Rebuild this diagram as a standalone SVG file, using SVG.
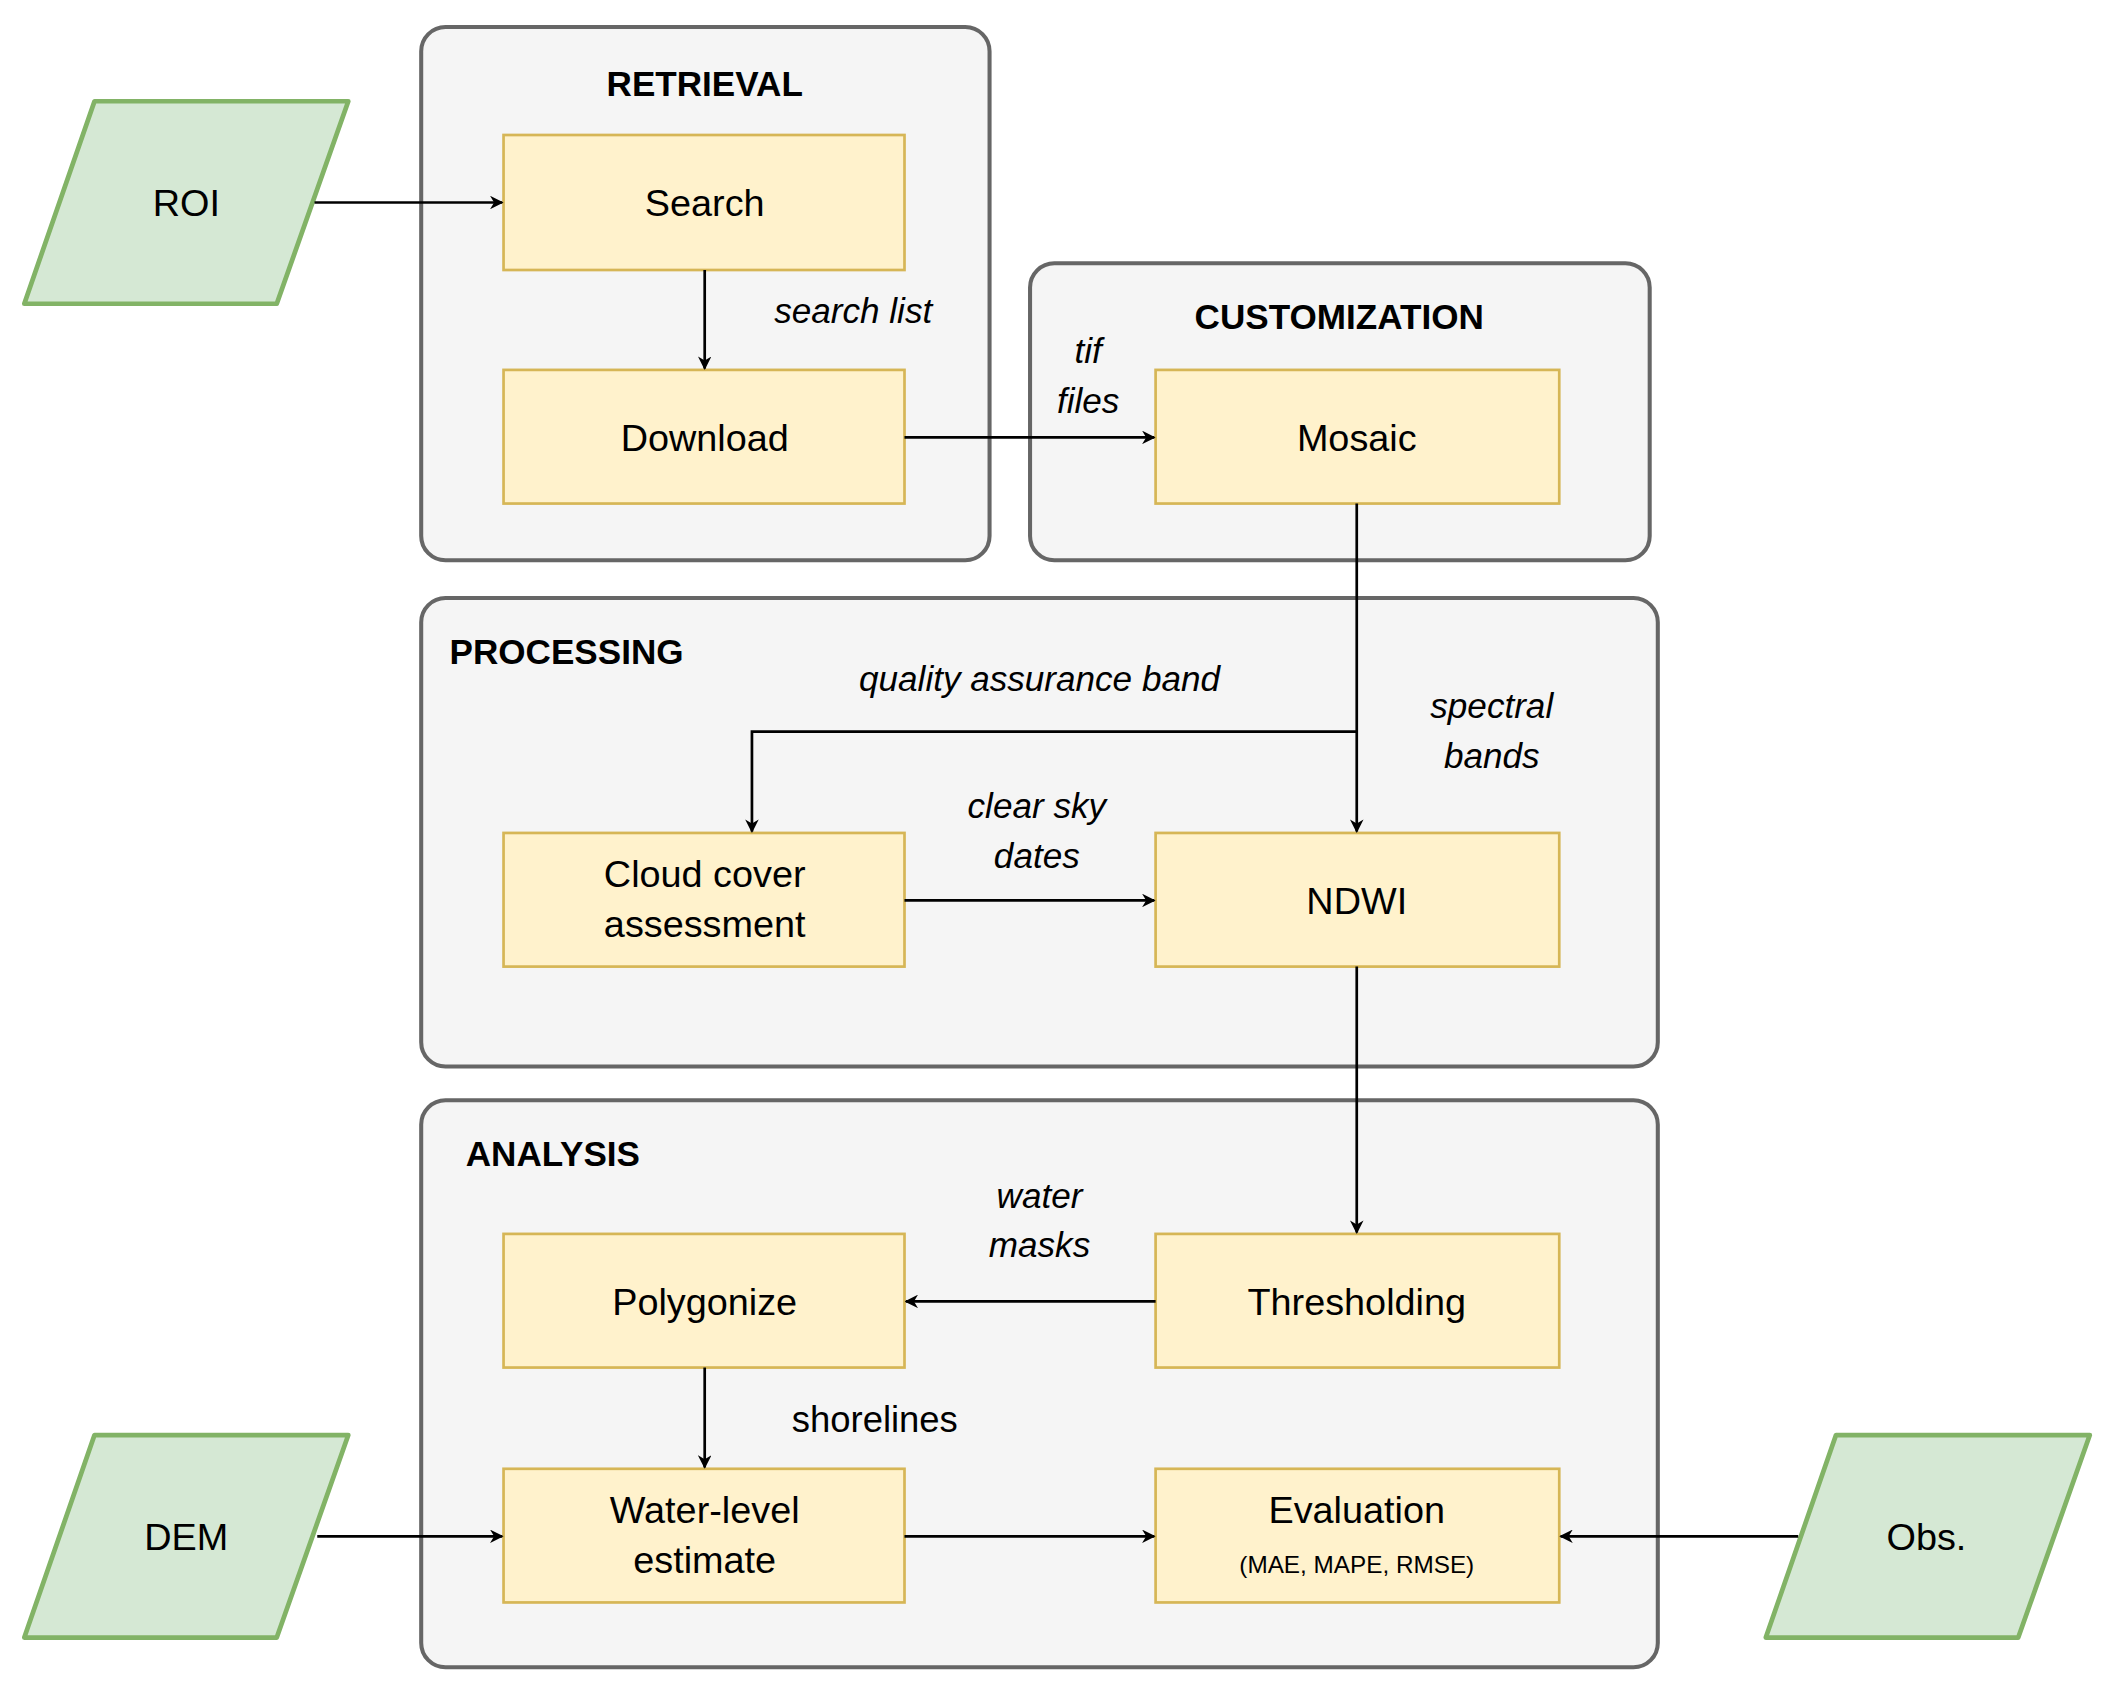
<svg xmlns="http://www.w3.org/2000/svg" width="2107" height="1688" viewBox="0 0 2107 1688">
<defs>
<style>
.grp{fill:#f5f5f5;stroke:#666;stroke-width:3}
.box{fill:#fff2cc;stroke:#d6b656;stroke-width:2}
.io{fill:#d5e8d4;stroke:#82b366;stroke-width:3.5;stroke-linejoin:round}
text{font-family:"Liberation Sans",Arial,sans-serif;fill:#000;text-anchor:middle}
.t{font-size:28px}
.h{font-size:26px;font-weight:bold}
.l{font-size:26px;font-style:italic}
.s{font-size:18px}
.e{fill:none;stroke:#000;stroke-width:2}
</style>
<marker id="a" viewBox="0 0 10 10" refX="9" refY="5" markerWidth="10" markerHeight="10" markerUnits="userSpaceOnUse" orient="auto"><path d="M0,0 L10,5 L0,10 L3,5 Z" fill="#000" transform="scale(1)"/></marker>
</defs>
<rect width="2107" height="1688" fill="#fff"/>
<g transform="scale(1.35)">
<g id="retrieval"><rect class="grp" x="312" y="20" width="421" height="395" rx="18"/><text class="h" x="522" y="71">RETRIEVAL</text></g>
<g id="customization"><rect class="grp" x="763" y="195" width="459" height="220" rx="18"/><text class="h" x="992" y="244">CUSTOMIZATION</text></g>
<g id="processing"><rect class="grp" x="312" y="443" width="916" height="347" rx="18"/><text class="h" x="333" y="492" style="text-anchor:start">PROCESSING</text></g>
<g id="analysis"><rect class="grp" x="312" y="815" width="916" height="420" rx="18"/><text class="h" x="345" y="864" style="text-anchor:start">ANALYSIS</text></g>
<g id="roi"><path class="io" d="M70,75 L258,75 L205,225 L18,225 Z"/><text class="t" x="138" y="160">ROI</text></g>
<g id="dem"><path class="io" d="M70,1063 L258,1063 L205,1213 L18,1213 Z"/><text class="t" x="138" y="1148">DEM</text></g>
<g id="obs"><path class="io" d="M1360,1063 L1548,1063 L1495,1213 L1308,1213 Z"/><text class="t" x="1427" y="1148">Obs.</text></g>
<g id="search"><rect class="box" x="373" y="100" width="297" height="100"/><text class="t" x="522" y="160">Search</text></g>
<g id="download"><rect class="box" x="373" y="274" width="297" height="99"/><text class="t" x="522" y="334">Download</text></g>
<g id="mosaic"><rect class="box" x="856" y="274" width="299" height="99"/><text class="t" x="1005" y="334">Mosaic</text></g>
<g id="cloud"><rect class="box" x="373" y="617" width="297" height="99"/><text class="t" x="522" y="657">Cloud cover</text><text class="t" x="522" y="694">assessment</text></g>
<g id="ndwi"><rect class="box" x="856" y="617" width="299" height="99"/><text class="t" x="1005" y="677">NDWI</text></g>
<g id="polygonize"><rect class="box" x="373" y="914" width="297" height="99"/><text class="t" x="522" y="974">Polygonize</text></g>
<g id="thresholding"><rect class="box" x="856" y="914" width="299" height="99"/><text class="t" x="1005" y="974">Thresholding</text></g>
<g id="waterlevel"><rect class="box" x="373" y="1088" width="297" height="99"/><text class="t" x="522" y="1128">Water-level</text><text class="t" x="522" y="1165">estimate</text></g>
<g id="evaluation"><rect class="box" x="856" y="1088" width="299" height="99"/><text class="t" x="1005" y="1128">Evaluation</text><text class="s" x="1005" y="1165">(MAE, MAPE, RMSE)</text></g>
<g id="connectors">
<path class="e" marker-end="url(#a)" d="M233,150 H372"/>
<path class="e" marker-end="url(#a)" d="M522,200 V273"/>
<path class="e" marker-end="url(#a)" d="M670,324 H855"/>
<path class="e" marker-end="url(#a)" d="M1005,373 V616"/>
<path class="e" marker-end="url(#a)" d="M1005,542 H557 V616"/>
<path class="e" marker-end="url(#a)" d="M670,667 H855"/>
<path class="e" marker-end="url(#a)" d="M1005,716 V913"/>
<path class="e" marker-end="url(#a)" d="M856,964 H671"/>
<path class="e" marker-end="url(#a)" d="M522,1013 V1087"/>
<path class="e" marker-end="url(#a)" d="M235,1138 H372"/>
<path class="e" marker-end="url(#a)" d="M670,1138 H855"/>
<path class="e" marker-end="url(#a)" d="M1332,1138 H1156"/>
<text class="l" x="632" y="239">search list</text>
<text class="l" x="806" y="269">tif</text><text class="l" x="806" y="306">files</text>
<text class="l" x="770" y="512">quality assurance band</text>
<text class="l" x="1105" y="532">spectral</text><text class="l" x="1105" y="569">bands</text>
<text class="l" x="768" y="606">clear sky</text><text class="l" x="768" y="643">dates</text>
<text class="l" x="770" y="895">water</text><text class="l" x="770" y="931">masks</text>
<text class="t" x="648" y="1061" style="font-size:27px">shorelines</text>
</g>
</g>
</svg>
